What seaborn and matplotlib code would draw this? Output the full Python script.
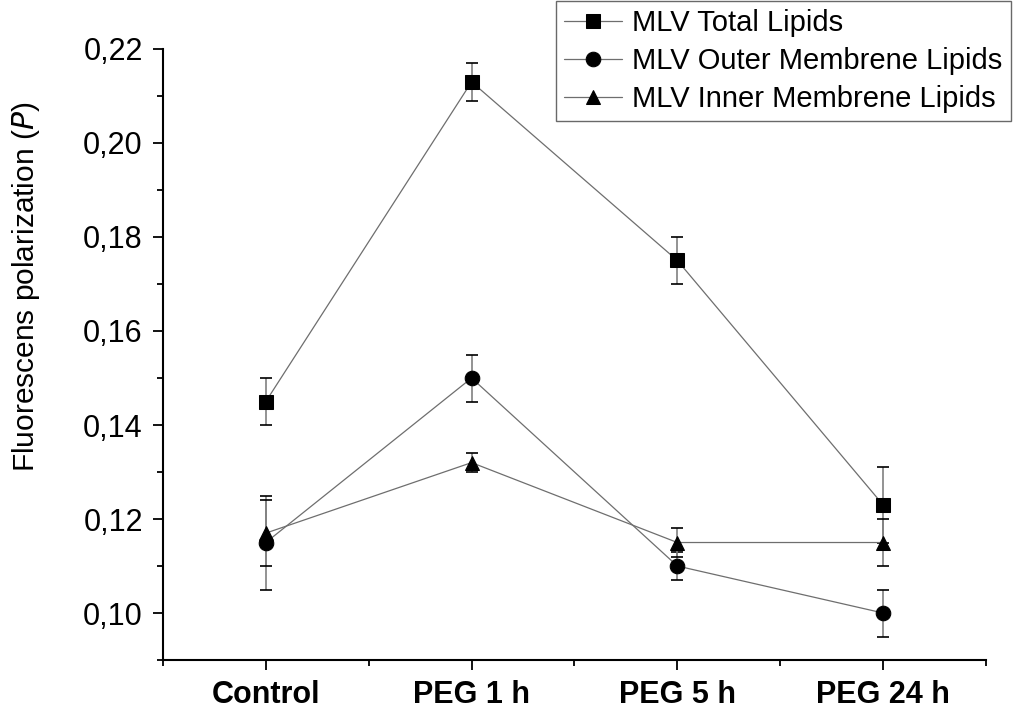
import numpy as np
import pandas as pd
import matplotlib
matplotlib.use("Agg")
import matplotlib.pyplot as plt
from matplotlib.ticker import MultipleLocator, FixedLocator, FuncFormatter
import seaborn as sns

# Treatment groups
categories = ["Control", "PEG 1 h", "PEG 5 h", "PEG 24 h"]

# Fluorescence polarization (P) and standard deviations
total_lipids = [0.145, 0.213, 0.175, 0.123]
total_err = [0.005, 0.004, 0.005, 0.008]
outer_lipids = [0.115, 0.150, 0.110, 0.100]
outer_err = [0.010, 0.005, 0.003, 0.005]
inner_lipids = [0.117, 0.132, 0.115, 0.115]
inner_err = [0.007, 0.002, 0.003, 0.005]

series_names = ["MLV Total Lipids", "MLV Outer Membrene Lipids", "MLV Inner Membrene Lipids"]
series_vals = [total_lipids, outer_lipids, inner_lipids]
series_errs = [total_err, outer_err, inner_err]
markers = ["s", "o", "^"]

x_pos = np.arange(len(categories))
df = pd.concat(
    [pd.DataFrame({"x": x_pos, "P": v, "err": e, "series": n})
     for n, v, e in zip(series_names, series_vals, series_errs)],
    ignore_index=True,
)

sns.set_theme(style="ticks")
plt.rcParams["font.family"] = ["Liberation Sans", "DejaVu Sans"]
plt.rcParams.update({
    "text.color": "black",
    "axes.labelcolor": "black",
    "xtick.color": "black",
    "ytick.color": "black",
})

fig = plt.figure(figsize=(10.14, 7.14), dpi=100)
ax = fig.add_axes([0.1607, 0.0756, 0.8117, 0.8558])

line_grey = "#6e6e6e"
err_grey = "#808080"
marker_size = 10.5

# Error bars drawn underneath the markers
for n in series_names:
    sub = df[df["series"] == n]
    ax.errorbar(sub["x"], sub["P"], yerr=sub["err"], fmt="none",
                ecolor=err_grey, elinewidth=1.2, capsize=4.5, capthick=1.2, zorder=2)

sns.lineplot(data=df, x="x", y="P", hue="series", style="series",
             hue_order=series_names, style_order=series_names,
             palette=[line_grey] * 3, markers=markers, dashes=False,
             markersize=marker_size, markerfacecolor="black", markeredgecolor="black",
             linewidth=0.9, ax=ax, zorder=3)

for ln in ax.lines:
    ln.set_markerfacecolor("black")
    ln.set_markeredgecolor("black")

ax.set_xlim(-0.5, 3.5)
ax.set_ylim(0.09, 0.22)

ax.xaxis.set_major_locator(FixedLocator(x_pos))
ax.xaxis.set_minor_locator(FixedLocator([-0.5, 0.5, 1.5, 2.5, 3.5]))
ax.set_xticklabels(categories, fontsize=22, fontweight="bold", color="black")

ax.yaxis.set_major_locator(MultipleLocator(0.02))
ax.yaxis.set_minor_locator(MultipleLocator(0.01))
ax.yaxis.set_major_formatter(FuncFormatter(lambda v, p: f"{v:.2f}".replace(".", ",")))
ax.tick_params(axis="y", labelsize=22, labelcolor="black")

ax.tick_params(which="major", direction="out", length=7.5, width=1.3, color="black", pad=7)
ax.tick_params(which="minor", direction="out", length=4, width=1.3, color="black")

for side in ["top", "right"]:
    ax.spines[side].set_visible(False)
for side in ["left", "bottom"]:
    ax.spines[side].set_linewidth(1.5)
    ax.spines[side].set_color("black")

ax.set_xlabel("")
ax.set_ylabel("Fluorescens polarization ($\\mathit{P}$)", fontsize=21.5, color="black")
ax.yaxis.set_label_coords(-0.147, 0.61)

handles, labels = ax.get_legend_handles_labels()
leg = ax.legend(handles, labels, loc="upper right", bbox_to_anchor=(1.03, 1.078),
                fontsize=21, frameon=True, fancybox=False, edgecolor="#444444",
                borderpad=0.28, labelspacing=0.33, handlelength=2.0, handletextpad=0.35,
                borderaxespad=0, labelcolor="black")
leg.get_frame().set_linewidth(1.0)
for h in leg.legend_handles:
    h.set_markerfacecolor("black")
    h.set_markeredgecolor("black")
    h.set_markersize(marker_size)

fig.savefig("out.png", dpi=100, facecolor="white")
